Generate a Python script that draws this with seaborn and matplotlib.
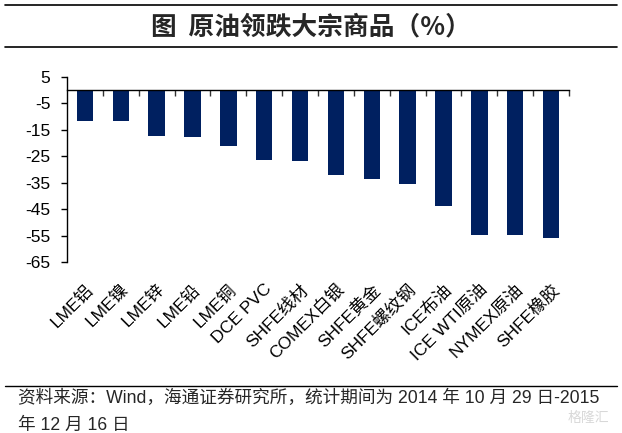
import matplotlib
matplotlib.use('Agg')
import matplotlib.pyplot as plt
import seaborn as sns
import pandas as pd
from matplotlib.lines import Line2D

categories = ["LME铝", "LME镍", "LME锌", "LME铅", "LME铜", "DCE PVC", "SHFE线材",
              "COMEX白银", "SHFE黄金", "SHFE螺纹钢", "ICE布油", "ICE WTI原油",
              "NYMEX原油", "SHFE橡胶"]
values = [-11.5, -11.5, -17.2, -17.7, -21.1, -26.3, -26.6, -32.0, -33.5, -35.5,
          -43.7, -54.8, -54.8, -56.0]
yticks = [5, -5, -15, -25, -35, -45, -55, -65]
title = "图  原油领跌大宗商品（%）"
source_line1 = "资料来源：Wind，海通证券研究所，统计期间为 2014 年 10 月 29 日-2015"
source_line2 = "年 12 月 16 日"
watermark = "格隆汇"

sns.set_theme(style='white')
fam = ['Liberation Sans', 'Noto Sans CJK SC']
plt.rcParams['font.family'] = fam
plt.rcParams['axes.unicode_minus'] = False

W, H = 622, 433
fig = plt.figure(figsize=(W / 100, H / 100), dpi=100)
ax = fig.add_axes([67 / W, 1 - 262 / H, (569 - 67) / W, (262 - 77) / H])

df = pd.DataFrame({'cat': categories, 'val': values})
sns.barplot(data=df, x='cat', y='val', color='#002060', width=0.46,
            saturation=1, ax=ax, edgecolor='none')

n = len(categories)
ax.set_ylim(min(yticks), max(yticks))
ax.set_xlim(-0.5, n - 0.5)
ax.set_yticks(yticks)
ax.set_yticklabels([str(v) for v in yticks])
ax.set_xlabel('')
ax.set_ylabel('')

for s in ['top', 'right']:
    ax.spines[s].set_visible(False)
ax.spines['bottom'].set_position(('data', 0))
for s in ['bottom', 'left']:
    ax.spines[s].set_color('black')
    ax.spines[s].set_linewidth(1.0)

# boundary ticks on the zero line
ax.set_xticks([i + 0.5 for i in range(n)])
ax.set_xticklabels([''] * n)
ax.tick_params(axis='x', bottom=True, direction='out', length=4, width=1,
               color='#333333')
ax.tick_params(axis='y', left=True, direction='out', length=4, width=1,
               color='black', labelsize=12.5, labelcolor='black', pad=8)

# category labels at the bottom
sec = ax.secondary_xaxis('bottom')
sec.set_xticks(list(range(n)))
sec.set_xticklabels(categories, rotation=45, ha='right', va='top',
                    rotation_mode='anchor', fontsize=12.5, color='black')
sec.tick_params(axis='x', length=0, pad=14)
sec.spines['bottom'].set_visible(False)

# header / footer
fig.add_artist(Line2D([5 / W, 617 / W], [1 - 5 / H, 1 - 5 / H],
                      color='black', lw=1.2, transform=fig.transFigure))
fig.add_artist(Line2D([5 / W, 617 / W], [1 - 47 / H, 1 - 47 / H],
                      color='black', lw=1.2, transform=fig.transFigure))
fig.add_artist(Line2D([5 / W, 617 / W], [1 - 386 / H, 1 - 386 / H],
                      color='black', lw=1.0, transform=fig.transFigure))
fig.text(0.5, 1 - 27 / H, title, ha='center', va='center', fontsize=18.5,
         fontweight='bold', family=['Noto Sans CJK SC', 'DejaVu Sans'])
fig.text(18 / W, 1 - 398 / H, source_line1, ha='left', va='center',
         fontsize=12.7, family=fam)
fig.text(18 / W, 1 - 425 / H, source_line2, ha='left', va='center',
         fontsize=12.7, family=fam)
fig.text(588 / W, 1 - 418 / H, watermark, ha='center', va='center',
         fontsize=10, color='#d8d8d8', family=['Noto Sans CJK SC'])

fig.savefig('out.png', dpi=100)
